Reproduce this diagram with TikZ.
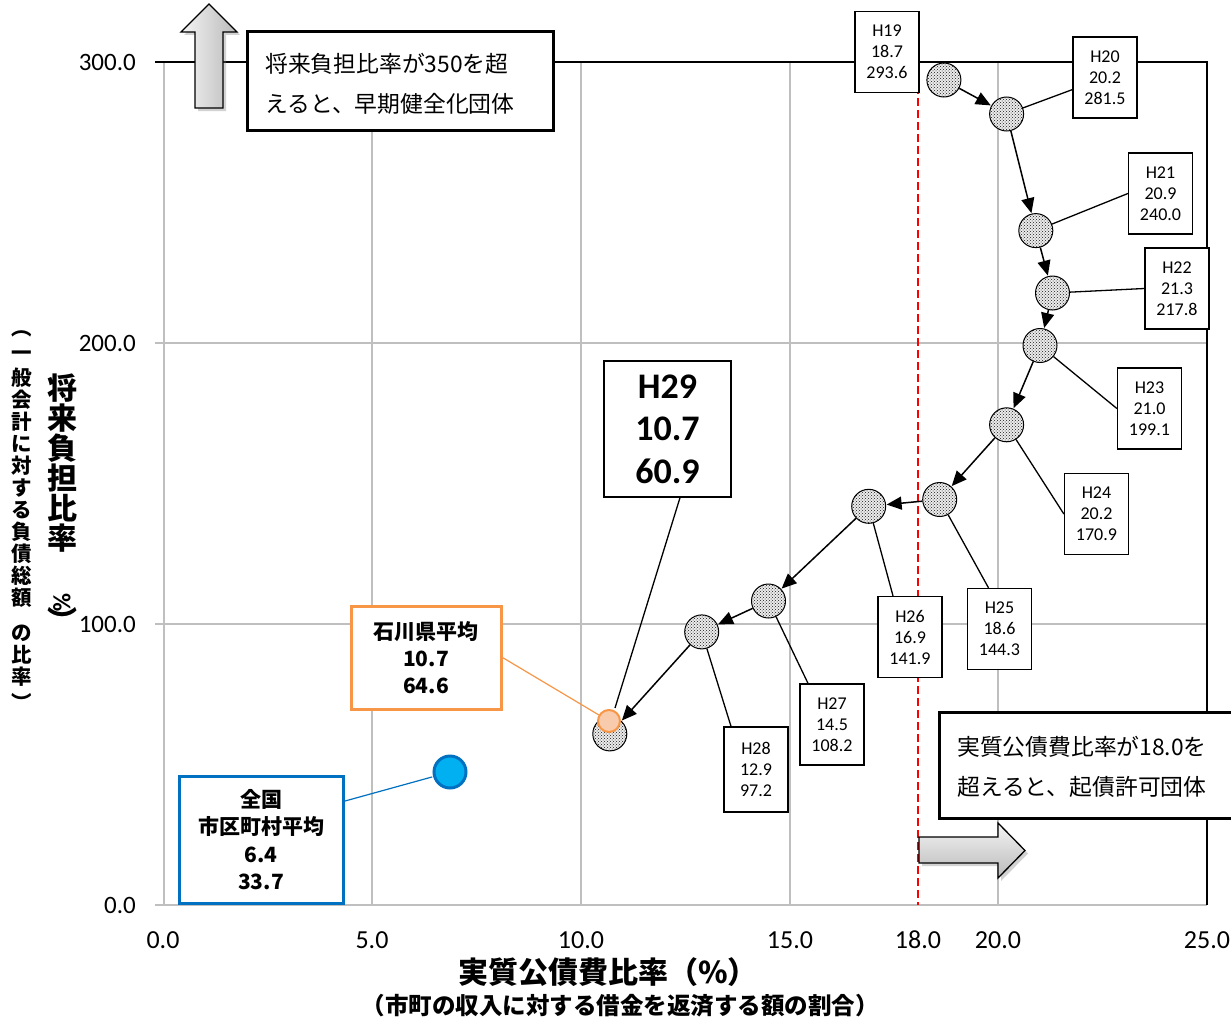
\documentclass[tikz,border=0pt]{standalone}
\usepackage{fontspec}
\setmainfont{Carlito}
\newfontfamily\jp{Noto Sans CJK JP}
\usetikzlibrary{arrows.meta,patterns,shadows,calc}
\definecolor{gridc}{RGB}{191,191,191}
\definecolor{orgc}{RGB}{247,150,70}
\definecolor{orgf}{RGB}{248,203,173}
\definecolor{bluc}{RGB}{0,112,192}
\definecolor{bluf}{RGB}{0,176,240}
\begin{document}
\begin{tikzpicture}[x=1pt,y=-1pt,
  gridline/.style={gridc, line width=1.5},
  ptc/.style={circle, draw=black, line width=1, minimum size=34, inner sep=0, preaction={fill=gray!15}, pattern=crosshatch dots, pattern color=black!90},
  lbl/.style={draw, line width=1.3, fill=white, minimum width=64, minimum height=81, inner sep=0, align=center, font=\fontsize{18}{21}\selectfont},
  lead/.style={line width=1.3},
  move/.style={line width=1.5, -{Triangle[length=15pt,width=13pt]}, shorten >=0.5pt},
  bigbox/.style={draw, line width=3, fill=white, inner sep=0},
  bigtxt/.style={anchor=west, align=left, inner sep=0, font=\jp\fontsize{22.8}{40}\selectfont},
  ytick/.style={anchor=east, inner sep=0, font=\fontsize{25}{25}\selectfont},
  xtick/.style={inner sep=0, font=\fontsize{26}{26}\selectfont},
  colA/.style={inner sep=0, font=\jp\bfseries\fontsize{30}{30}\selectfont},
  colB/.style={inner sep=0, font=\jp\bfseries\fontsize{20.5}{20.5}\selectfont},
  blockarrow/.style={draw=black, line width=1.3, drop shadow={shadow xshift=3pt, shadow yshift=-3pt, opacity=0.35}}
]
\useasboundingbox (0,0) rectangle (1231,1025);
\fill[white] (0,0) rectangle (1231,1025);

% grid and axes
\foreach \x in {372,581,790,998} \draw[gridline] (\x,62) -- (\x,905);
\foreach \y in {343,624} \draw[gridline] (155,\y) -- (1207,\y);
\draw[gridline] (164,62) -- (164,905);
\draw[gridline] (155,905) -- (1207,905);
\draw[black, line width=1.5] (155,62) -- (1207,62) -- (1207,905);

% y tick labels
\node[ytick] (y300) at (136,62) {300.0};
\node[ytick] (y200) at (136,343) {200.0};
\node[ytick] (y100) at (136,624) {100.0};
\node[ytick] (y0) at (136,905) {0.0};
% x tick labels
\node[xtick] (x0) at (163,940) {0.0};
\node[xtick] (x5) at (372,940) {5.0};
\node[xtick] (x10) at (581,940) {10.0};
\node[xtick] (x15) at (790,940) {15.0};
\node[xtick] (x18) at (918,940) {18.0};
\node[xtick] (x20) at (998,940) {20.0};
\node[xtick] (x25) at (1207,940) {25.0};

% axis titles
\node[inner sep=0, font=\jp\bfseries\fontsize{30}{30}\selectfont] (xt1) at (608,972) {実質公債費比率（\%）};
\node[inner sep=0, font=\jp\bfseries\fontsize{23.5}{23.5}\selectfont] (xt2) at (620,1006) {（市町の収入に対する借金を返済する額の割合）};

\foreach \c [count=\i] in {将,来,負,担,比,率}
  \node[colA] (ya\i) at (62,358+30*\i) {\c};
\node[colA, rotate=-90, font=\bfseries\fontsize{25}{25}\selectfont] (yapc) at (62,603) {\%};
\node[colA] (yacl) at (62,620) {︶};

\node[colB] (ybop) at (22,334) {︵};
\foreach \c [count=\i] in {一,般,会,計,に,対,す,る,負,債,総,額}
  \node[colB] (yb\i) at (22,334+22*\i) {\c};
\node[colB] (yb13) at (22,633) {の};
\node[colB] (yb14) at (22,655) {比};
\node[colB] (yb15) at (22,677) {率};
\node[colB] (ybcl) at (22,702) {︶};

% red dashed limit
\draw[red, line width=2.5, dash pattern=on 8pt off 4pt] (918,62) -- (918,905);

% data points
\node[ptc] (p19) at (943.9,80) {};
\node[ptc] (p20) at (1006.6,114) {};
\node[ptc] (p21) at (1035.8,230.6) {};
\node[ptc] (p22) at (1052.5,293) {};
\node[ptc] (p23) at (1040,345.5) {};
\node[ptc] (p24) at (1006.6,424.8) {};
\node[ptc] (p25) at (939.7,499.5) {};
\node[ptc] (p26) at (868.7,506.3) {};
\node[ptc] (p27) at (768.5,601) {};
\node[ptc] (p28) at (701.7,631.9) {};
\node[ptc] (p29) at (609.8,733.9) {};
\node[circle, draw=orgc, line width=2, fill=orgf, minimum size=22, inner sep=0] (pish) at (609,721) {};
\node[circle, draw=bluc, line width=3, fill=bluf, minimum size=32, inner sep=0] (pnat) at (450,772) {};

% trajectory arrows
\draw[move] (p19) -- (p20);
\draw[move] (p20) -- (p21);
\draw[move] (p21) -- (p22);
\draw[move] (p22) -- (p23);
\draw[move] (p23) -- (p24);
\draw[move] (p24) -- (p25);
\draw[move] (p25) -- (p26);
\draw[move] (p26) -- (p27);
\draw[move] (p27) -- (p28);
\draw[move] (p28) -- (p29);

% label boxes
\node[lbl] (l19) at (887,52) {H19\\18.7\\293.6};
\node[lbl] (l20) at (1105,77.5) {H20\\20.2\\281.5};
\node[lbl] (l21) at (1160.5,193.5) {H21\\20.9\\240.0};
\node[lbl] (l22) at (1177,288.5) {H22\\21.3\\217.8};
\node[lbl] (l23) at (1149.5,408.5) {H23\\21.0\\199.1};
\node[lbl] (l24) at (1096.5,514) {H24\\20.2\\170.9};
\node[lbl] (l25) at (999.5,629) {H25\\18.6\\144.3};
\node[lbl] (l26) at (910,637) {H26\\16.9\\141.9};
\node[lbl] (l27) at (832,724.5) {H27\\14.5\\108.2};
\node[lbl, minimum height=85] (l28) at (756,769.5) {H28\\12.9\\97.2};
\node[lbl, minimum width=127, minimum height=136, font=\bfseries\fontsize{36}{42.5}\selectfont] (l29) at (667.5,429) {H29\\10.7\\60.9};

% leader lines
\draw[lead] (l20) -- (p20);
\draw[lead] (l21.west) -- (p21);
\draw[lead] (l22.west) -- (p22);
\draw[lead] (p23) -- (l23.west);
\draw[lead] (p24) -- (l24.west);
\draw[lead] (p25) -- ([xshift=-11pt]l25.north);
\draw[lead] (p26) -- ([xshift=-17pt]l26.north);
\draw[lead] (p27) -- ([xshift=-24pt]l27.north);
\draw[lead] (p28) -- ([xshift=-25pt]l28.north);
\coordinate (e29) at (615,708);
\draw[lead] ([xshift=12.5pt]l29.south) -- (e29);

% averages
\node[draw=orgc, line width=3, fill=white, minimum width=150, minimum height=103, inner sep=0, align=center, font=\jp\bfseries\fontsize{21}{27}\selectfont] (ish) at (426,657.5) {石川県平均\\10.7\\64.6};
\draw[orgc, line width=1.2] (ish.east) -- (pish);
\node[draw=bluc, line width=3, fill=white, minimum width=164, minimum height=127, inner sep=0, align=center, font=\jp\bfseries\fontsize{21}{27.5}\selectfont] (nat) at (261,839.5) {全国\\市区町村平均\\6.4\\33.7};
\draw[bluc, line width=1.2, shorten >=1pt] ($(nat.north east)!0.205!(nat.south east)$) -- (pnat);

% threshold notes
\draw[blockarrow, left color=gray!8, right color=gray!55] (195,108) -- (195,32) -- (181,32) -- (209,4) -- (237,32) -- (223,32) -- (223,108) -- cycle;
\node[bigbox, minimum width=306, minimum height=99] (b1) at (400,81) {};
\node[bigtxt] (b1t) at (265,84) {将来負担比率が350を超\\えると、早期健全化団体};

\node[bigbox, minimum width=310, minimum height=106] (b2) at (1094,765) {};
\node[bigtxt] (b2t) at (957,767) {実質公債費比率が18.0を\\超えると、起債許可団体};
\draw[blockarrow, top color=gray!8, bottom color=gray!55] (919,837) -- (998,837) -- (998,823) -- (1025,850.5) -- (998,878) -- (998,863) -- (919,863) -- cycle;
\end{tikzpicture}
\end{document}
